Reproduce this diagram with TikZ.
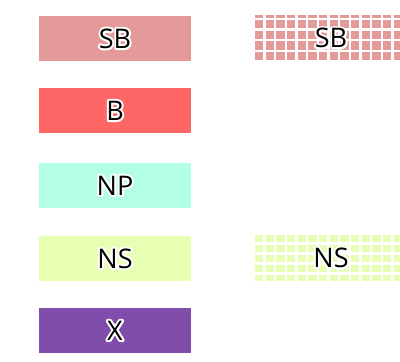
\documentclass[tikz,border=0pt]{standalone}
\usepackage{fontspec}
\setmainfont{Open Sans}
\definecolor{sbcol}{RGB}{229,154,154}
\definecolor{bcol}{RGB}{255,102,102}
\definecolor{npcol}{RGB}{179,255,230}
\definecolor{nscol}{RGB}{230,255,179}
\definecolor{xcol}{RGB}{128,77,170}
% white outline under the black letters
\newcommand{\halo}[1]{\leavevmode\rlap{\special{pdf:literal 1 Tr 4 w 1 j 1 1 1 RG}#1\special{pdf:literal 0 Tr}}#1}

\begin{document}
\begin{tikzpicture}[x=1pt,y=-1pt,
  legbox/.style={minimum width=152pt,minimum height=45pt,inner sep=0pt,
    font=\fontsize{27}{30}\selectfont},
  patbox/.style={legbox}]
\useasboundingbox (0,0) rectangle (400,362);
% solid swatches
\node[legbox,fill=sbcol] (sb) at (115,38.5) {};
\node[legbox,fill=bcol] (b) at (115,110.5) {};
\node[legbox,fill=npcol] (np) at (115,185.5) {};
\node[legbox,fill=nscol] (ns) at (115,258.5) {};
\node[legbox,fill=xcol] (x) at (115,330.5) {};
% squared swatches
\node[patbox] (sbpat) at (331,38) {};
\node[patbox] (nspat) at (331,258) {};
\begin{scope}
  \clip (sbpat.north west) rectangle (sbpat.south east);
  \foreach \i in {0,...,14}
    \foreach \j in {-1,...,4}
      \fill[sbcol] (255+10.67*\i,9.33+10.67*\j) rectangle ++(8.3,8.3);
\end{scope}
\begin{scope}
  \clip (nspat.north west) rectangle (nspat.south east);
  \foreach \i in {0,...,14}
    \foreach \j in {-1,...,4}
      \fill[nscol] (255+10.67*\i,235+10*\j) rectangle ++(8.3,7.3);
\end{scope}
% labels
\node[legbox] at (sb) {\halo{SB}};
\node[legbox] at (b) {\halo{B}};
\node[legbox] at (np) {\halo{NP}};
\node[legbox] at (ns) {\halo{NS}};
\node[legbox] at (x) {\halo{X}};
\node[legbox] at (sbpat) {\halo{SB}};
\node[legbox] at (nspat) {\halo{NS}};
\end{tikzpicture}
\end{document}
